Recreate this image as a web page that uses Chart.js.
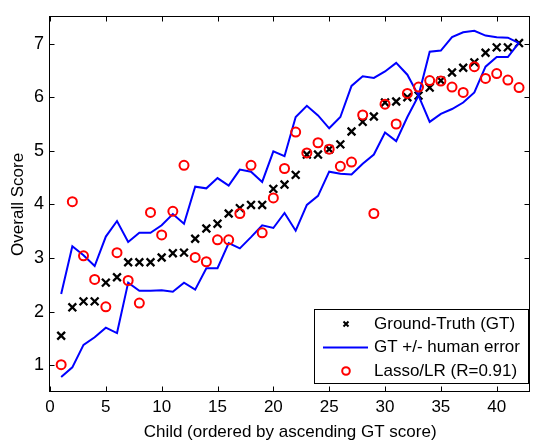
<!DOCTYPE html>
<html>
<head>
<meta charset="utf-8">
<script src="https://cdn.jsdelivr.net/npm/chart.js@4.4.0/dist/chart.umd.min.js"></script>
<style>
  html, body { margin: 0; padding: 0; background: #fff; }
  #chartDiv { width: 538px; height: 443px; }
</style>
</head>
<body>
<div id="chartDiv"><canvas id="myChart" width="538" height="443"></canvas></div>
<script>
// valores
const children = [1, 2, 3, 4, 5, 6, 7, 8, 9, 10, 11, 12, 13, 14, 15, 16, 17, 18, 19, 20, 21,
  22, 23, 24, 25, 26, 27, 28, 29, 30, 31, 32, 33, 34, 35, 36, 37, 38, 39, 40, 41, 42];
const groundTruth = [1.55, 2.08, 2.19, 2.19, 2.54, 2.64, 2.92, 2.92, 2.92, 3.01, 3.09, 3.10, 3.36, 3.55,
  3.64, 3.83, 3.93, 3.99, 3.99, 4.29, 4.37, 4.55, 4.93, 4.93, 5.03, 5.12, 5.36, 5.54, 5.64, 5.90,
  5.92, 6.00, 6.03, 6.18, 6.31, 6.46, 6.55, 6.65, 6.83, 6.93, 6.93, 7.01];
const errLineA = [2.33, 3.22, 3.05, 2.85, 3.40, 3.69, 3.30, 3.47, 3.47, 3.61, 3.82, 3.64, 4.33, 4.30,
  4.49, 4.35, 4.65, 4.61, 4.42, 4.99, 4.90, 5.63, 5.84, 5.66, 5.42, 5.63, 6.21, 6.39, 6.36, 6.48,
  6.64, 6.42, 6.03, 5.54, 5.69, 5.78, 5.90, 6.09, 6.57, 6.75, 6.75, 7.02];
const errLineB = [0.78, 0.96, 1.38, 1.52, 1.70, 1.60, 2.54, 2.39, 2.39, 2.40, 2.37, 2.54, 2.41, 2.81,
  2.81, 3.28, 3.18, 3.39, 3.61, 3.56, 3.84, 3.51, 3.99, 4.16, 4.61, 4.57, 4.56, 4.76, 4.93, 5.34,
  5.18, 5.63, 6.03, 6.85, 6.87, 7.12, 7.21, 7.24, 7.15, 7.12, 7.11, 7.01];
const lasso = [1.01, 4.05, 3.04, 2.60, 2.09, 3.10, 2.58, 2.16, 3.85, 3.43, 3.87, 4.73, 3.01, 2.93,
  3.34, 3.34, 3.83, 4.73, 3.47, 4.12, 4.67, 5.35, 4.96, 5.15, 5.03, 4.71, 4.79, 5.67, 3.83, 5.87,
  5.50, 6.07, 6.19, 6.31, 6.30, 6.19, 6.09, 6.57, 6.35, 6.44, 6.32, 6.18];
const xTicks = [0, 5, 10, 15, 20, 25, 30, 35, 40];
const yTicks = [1, 2, 3, 4, 5, 6, 7];
const legendLabels = ["Ground-Truth (GT)", "GT +/- human error", "Lasso/LR (R=0.91)"];

const FONT = "'Liberation Sans', Arial, Helvetica, sans-serif";
Chart.defaults.font.family = FONT;
Chart.defaults.font.size = 17;
Chart.defaults.color = "#000";

function pts(ys) {
  return children.map((x, i) => ({ x: x, y: ys[i] }));
}

// caixa estilo matlab: bordas, ticks para dentro e legenda
const matlabBox = {
  id: "matlabBox",
  afterDraw(chart) {
    const ctx = chart.ctx;
    const a = chart.chartArea;
    const xs = chart.scales.x, ys = chart.scales.y;
    ctx.save();
    ctx.strokeStyle = "#000";
    ctx.lineWidth = 1;
    const L = Math.round(a.left) - 0.5, R = Math.round(a.right) - 0.5;
    const T = Math.round(a.top) - 0.5, B = Math.round(a.bottom) - 0.5;
    ctx.strokeRect(L, T, R - L, B - T);
    ctx.beginPath();
    xTicks.forEach(v => {
      const p = Math.round(xs.getPixelForValue(v)) + 0.5;
      ctx.moveTo(p, B); ctx.lineTo(p, B - 5);
      ctx.moveTo(p, T); ctx.lineTo(p, T + 5);
    });
    yTicks.forEach(v => {
      const p = Math.round(ys.getPixelForValue(v)) + 0.5;
      ctx.moveTo(L, p); ctx.lineTo(L + 5, p);
      ctx.moveTo(R, p); ctx.lineTo(R - 5, p);
    });
    ctx.stroke();

    // legenda
    const bx = 314.5, by = 309.5, bw = 214, bh = 74;
    ctx.fillStyle = "#fff";
    ctx.fillRect(bx, by, bw, bh);
    ctx.strokeRect(bx, by, bw, bh);
    const rows = [324, 347.5, 371];
    const mx = 346;
    ctx.lineWidth = 2;
    ctx.strokeStyle = "#000";
    ctx.beginPath();
    ctx.moveTo(mx - 2.5, rows[0] - 2.5); ctx.lineTo(mx + 2.5, rows[0] + 2.5);
    ctx.moveTo(mx - 2.5, rows[0] + 2.5); ctx.lineTo(mx + 2.5, rows[0] - 2.5);
    ctx.stroke();
    ctx.strokeStyle = "#0000ff";
    ctx.beginPath();
    ctx.moveTo(323, rows[1]); ctx.lineTo(368, rows[1]);
    ctx.stroke();
    ctx.strokeStyle = "#ff0000";
    ctx.beginPath();
    ctx.arc(mx, rows[2], 3.8, 0, Math.PI * 2);
    ctx.stroke();
    ctx.fillStyle = "#000";
    ctx.font = "17px " + FONT;
    ctx.textAlign = "left";
    ctx.textBaseline = "middle";
    legendLabels.forEach((t, i) => ctx.fillText(t, 374, rows[i]));
    ctx.restore();
  }
};

const ctx = document.getElementById("myChart");

new Chart(ctx, {
  type: "scatter",
  data: {
    datasets: [
      {
        label: legendLabels[0],
        data: pts(groundTruth),
        pointStyle: "crossRot",
        pointRadius: 5.5,
        pointBorderWidth: 2.3,
        pointBorderColor: "#000",
        pointBackgroundColor: "#000",
        showLine: false,
        order: 3,
      },
      {
        label: legendLabels[1],
        data: pts(errLineA),
        showLine: true,
        borderColor: "#0000ff",
        borderWidth: 2,
        pointRadius: 0,
        tension: 0,
        order: 2,
      },
      {
        label: "lower",
        data: pts(errLineB),
        showLine: true,
        borderColor: "#0000ff",
        borderWidth: 2,
        pointRadius: 0,
        tension: 0,
        order: 2,
      },
      {
        label: legendLabels[2],
        data: pts(lasso),
        pointStyle: "circle",
        pointRadius: 4.5,
        pointBorderWidth: 2,
        pointBorderColor: "#ff0000",
        pointBackgroundColor: "rgba(0,0,0,0)",
        showLine: false,
        order: 1,
      },
    ],
  },
  options: {
    responsive: false,
    devicePixelRatio: 1,
    animation: false,
    events: [],
    layout: { padding: { top: 7, right: -2, left: 0, bottom: 0 } },
    plugins: {
      legend: { display: false },
      tooltip: { enabled: false },
    },
    scales: {
      x: {
        type: "linear",
        min: 0,
        max: 43,
        afterBuildTicks: s => { s.ticks = xTicks.map(v => ({ value: v })); },
        afterFit: s => { s.height = 51; },
        grid: { display: false, drawTicks: false },
        border: { display: false },
        ticks: { padding: 5, maxRotation: 0, autoSkip: false, color: "#000" },
        title: {
          display: true,
          text: "Child (ordered by ascending GT score)",
          color: "#000",
          padding: { top: 4, bottom: 0 },
        },
      },
      y: {
        min: 0.5,
        max: 7.5,
        afterBuildTicks: s => { s.ticks = yTicks.map(v => ({ value: v })); },
        afterFit: s => { s.width = 50; },
        grid: { display: false, drawTicks: false },
        border: { display: false },
        ticks: { padding: 6, color: "#000", font: { size: 18 } },
        title: {
          display: true,
          text: "Overall Score",
          color: "#000",
          padding: { top: 8, bottom: 0 },
        },
      },
    },
  },
  plugins: [matlabBox],
});
</script>
</body>
</html>
